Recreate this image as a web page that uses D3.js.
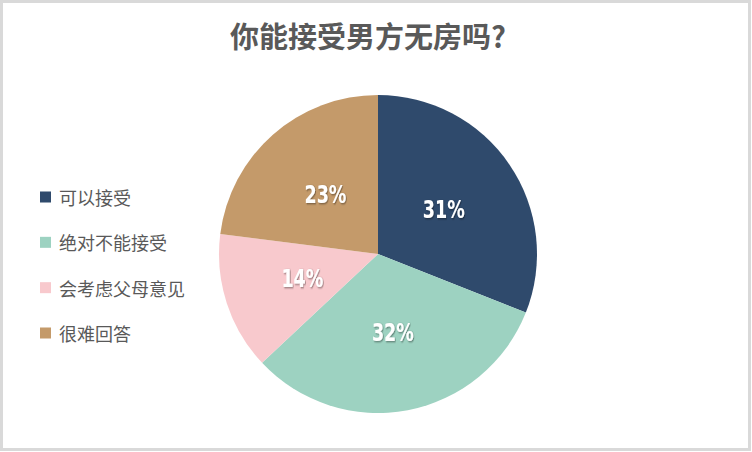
<!DOCTYPE html>
<html>
<head>
<meta charset="utf-8">
<script src="https://cdn.jsdelivr.net/npm/d3@7"></script>
<style>
  html, body { margin: 0; padding: 0; background: #fff; }
  svg { display: block; }
</style>
</head>
<body>
<svg id="chart" width="752" height="452"></svg>
<script>
const title = "你能接受男方无房吗?";
const categories = ["可以接受", "绝对不能接受", "会考虑父母意见", "很难回答"];
const values = [31, 32, 14, 23];
const colors = ["#2F4A6C", "#9DD2C1", "#F8C9CD", "#C49A6A"];

const W = 752, H = 452;
const svg = d3.select("#chart");

// frame
svg.append("rect").attr("x", 1.5).attr("y", 1.5).attr("width", W - 4).attr("height", H - 4)
  .attr("fill", "#fff").attr("stroke", "#d9d9d9").attr("stroke-width", 3);

const defs = svg.append("defs");
const f = defs.append("filter").attr("id", "sh").attr("x", "-20%").attr("y", "-20%").attr("width", "140%").attr("height", "140%");
f.append("feDropShadow").attr("dx", 1).attr("dy", 1).attr("stdDeviation", 0.8)
  .attr("flood-color", "#000").attr("flood-opacity", 0.45);

// title
svg.append("text").attr("x", 368).attr("y", 35)
  .attr("text-anchor", "middle").attr("dominant-baseline", "central")
  .attr("font-family", "'Noto Sans CJK SC', sans-serif").attr("font-weight", 700)
  .attr("font-size", 29).attr("fill", "#595959").text(title);

// pie
const cx = 378, cy = 254, R = 159;
const pie = d3.pie().sort(null).value(d => d)(values);
const arc = d3.arc().innerRadius(0).outerRadius(R);
const g = svg.append("g").attr("transform", `translate(${cx},${cy})`);
g.selectAll("path").data(pie).join("path")
  .attr("d", arc).attr("fill", (d, i) => colors[i]);

g.selectAll("text.lbl").data(pie).join("text").attr("class", "lbl")
  .attr("transform", d => `translate(${arc.centroid(d)}) scale(0.78,1)`)
  .attr("text-anchor", "middle").attr("dominant-baseline", "central")
  .attr("font-family", "'DejaVu Sans Condensed', 'DejaVu Sans', sans-serif")
  .attr("font-weight", 700).attr("font-size", 25).attr("fill", "#fff")
  .attr("filter", "url(#sh)")
  .text(d => d.data + "%");

// legend
const ly = d3.scalePoint().domain(categories).range([197, 333]);
const lg = svg.append("g");
const items = lg.selectAll("g").data(categories).join("g")
  .attr("transform", d => `translate(0,${ly(d)})`);
items.append("rect").attr("x", 40).attr("y", -5.5).attr("width", 11).attr("height", 11)
  .attr("fill", (d, i) => colors[i]);
items.append("text").attr("x", 59).attr("y", 0).attr("dominant-baseline", "central")
  .attr("font-family", "'Noto Sans CJK SC', sans-serif").attr("font-size", 18)
  .attr("fill", "#595959").text(d => d);
</script>
</body>
</html>
